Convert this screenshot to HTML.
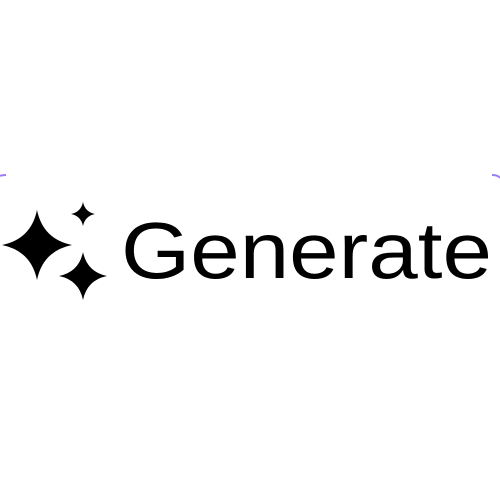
<!DOCTYPE html>
<html><head><meta charset="utf-8"><style>
html,body{margin:0;padding:0;background:#fff;width:500px;height:500px;overflow:hidden}
</style></head><body>
<svg width="500" height="500" viewBox="0 0 500 500">
<path d="M0,176 Q2,175 6,175" stroke="#9b7cf6" stroke-width="2" fill="none"/>
<path d="M492,175 Q498,175 500,178" stroke="#9b7cf6" stroke-width="2" fill="none"/>
<g id="stars" fill="#000"></g>
<text x="121" y="278" font-family="Liberation Sans, sans-serif" font-size="80" textLength="371" lengthAdjust="spacingAndGlyphs" fill="#000">Generate</text>
</svg>
<script>
const stars=[[37,245,35,35],[83,214,12,12],[83,276,24,24]];
const names=['large-sparkle','small-sparkle','medium-sparkle'];
const g=document.getElementById('stars');
stars.forEach((s,i)=>{
 const [cx,cy,rx,ry]=s, k=0.17;
 const d=`M${cx},${cy-ry} Q${cx+rx*k},${cy-ry*k} ${cx+rx},${cy} Q${cx+rx*k},${cy+ry*k} ${cx},${cy+ry} Q${cx-rx*k},${cy+ry*k} ${cx-rx},${cy} Q${cx-rx*k},${cy-ry*k} ${cx},${cy-ry}Z`;
 const p=document.createElementNS('http://www.w3.org/2000/svg','path');
 p.setAttribute('d',d);
 
 
 g.appendChild(p);
});
</script>
</body></html>
